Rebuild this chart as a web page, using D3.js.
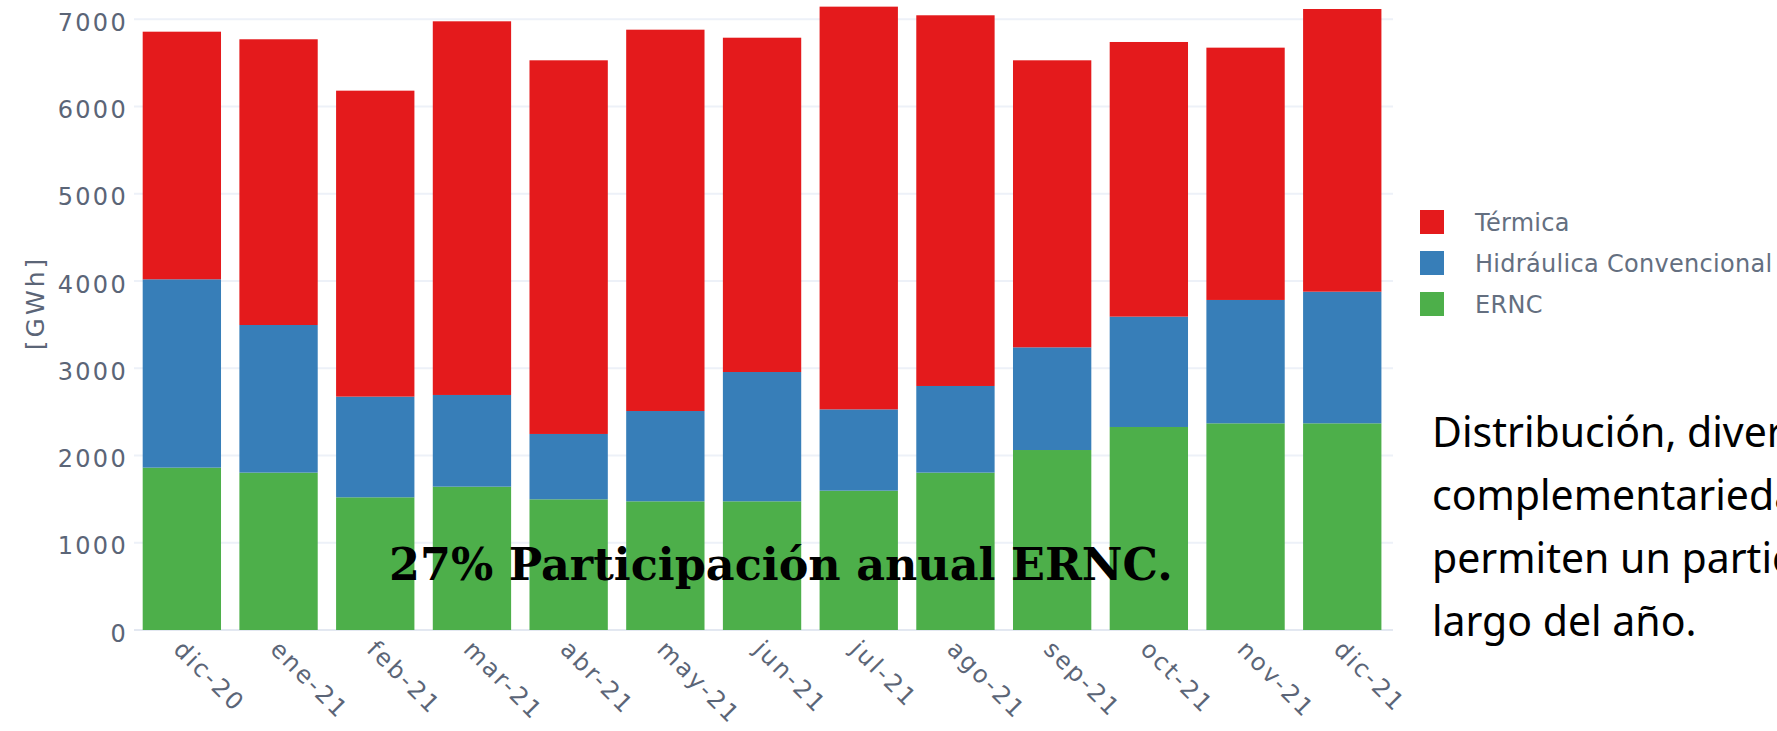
<!DOCTYPE html>
<html>
<head>
<meta charset="utf-8">
<script src="https://cdn.jsdelivr.net/npm/d3@7"></script>
<style>
  html, body { margin: 0; padding: 0; background: #ffffff; overflow: hidden; }
  svg { display: block; }
</style>
</head>
<body>
<svg id="chart" width="1777" height="731"></svg>
<script>
// ---- data ----
const months = ["dic-20","ene-21","feb-21","mar-21","abr-21","may-21","jun-21","jul-21","ago-21","sep-21","oct-21","nov-21","dic-21"];
const ernc    = [1861, 1804, 1521, 1643, 1498, 1475, 1475, 1597, 1804, 2063, 2327, 2369, 2369];
const hidro   = [2159, 1692, 1154, 1051,  749, 1035, 1482,  932,  993, 1177, 1265, 1414, 1509];
const termica = [2838, 3275, 3507, 4283, 4283, 4371, 3832, 4616, 4249, 3290, 3148, 2892, 3240];
const yTicks  = [0, 1000, 2000, 3000, 4000, 5000, 6000, 7000];
const seriesNames = ["ERNC", "Hidráulica Convencional", "Térmica"];
const legendOrder = ["Térmica", "Hidráulica Convencional", "ERNC"];
const yTitle = "[GWh]";
const annotation = "27% Participación anual ERNC.";
const sideText = ["Distribución, diversidad y", "complementariedad de recursos", "permiten un participación a lo", "largo del año."];

// ---- styles ----
const colors = {"Térmica": "#e41a1c", "Hidráulica Convencional": "#377eb8", "ERNC": "#4daf4a"};
const tickColor = "#5b6577";
const font = "'DejaVu Sans', sans-serif";

const svg = d3.select("#chart");
svg.append("rect").attr("width", 1777).attr("height", 731).attr("fill", "#fff");

const rows = months.map((m, i) => ({
  month: m,
  "ERNC": ernc[i],
  "Hidráulica Convencional": hidro[i],
  "Térmica": termica[i]
}));

const x = d3.scaleBand().domain(months).range([133.5, 1390.6]).paddingInner(0.19).paddingOuter(0.095);
const y = d3.scaleLinear().domain([0, 7000]).range([630, 19.3]);

// gridlines
svg.append("g").selectAll("line").data(yTicks).join("line")
  .attr("x1", 134).attr("x2", 1393)
  .attr("y1", d => y(d)).attr("y2", d => y(d))
  .attr("stroke", d => d === 0 ? "#e3e8f1" : "#edf1f8")
  .attr("stroke-width", 2);

// stacked bars
const stack = d3.stack().keys(seriesNames)(rows);
svg.append("g").selectAll("g").data(stack).join("g")
  .attr("fill", d => colors[d.key])
  .selectAll("rect").data(d => d).join("rect")
  .attr("x", d => x(d.data.month))
  .attr("width", x.bandwidth())
  .attr("y", d => y(d[1]))
  .attr("height", d => y(d[0]) - y(d[1]));

// y axis tick labels
const yAxis = d3.axisLeft(y).tickValues(yTicks).tickSize(0).tickPadding(0).tickFormat(d3.format("d"));
const gy = svg.append("g").attr("transform", "translate(128,0)").call(yAxis);
gy.select(".domain").remove();
gy.selectAll("text")
  .attr("x", 0).attr("dy", null).attr("y", 3)
  .attr("dominant-baseline", "central")
  .attr("fill", tickColor)
  .style("font-family", font).style("font-size", "24px").style("letter-spacing", "2.3px");

// x axis tick labels (rotated 45°)
svg.append("g").selectAll("text").data(months).join("text")
  .attr("transform", d => `translate(${x(d) + x.bandwidth() / 2 - 4},645) rotate(45)`)
  .attr("text-anchor", "start")
  .attr("dominant-baseline", "central")
  .attr("fill", tickColor)
  .style("font-family", font).style("font-size", "24px").style("letter-spacing", "2.4px")
  .text(d => d);

// y title
svg.append("text")
  .attr("transform", "translate(35,303) rotate(-90)")
  .attr("text-anchor", "middle").attr("dominant-baseline", "central")
  .attr("fill", tickColor)
  .style("font-family", font).style("font-size", "25px").style("letter-spacing", "3px")
  .text(yTitle);

// legend
const lg = svg.append("g").selectAll("g").data(legendOrder).join("g")
  .attr("transform", (d, i) => `translate(1420,${210 + i * 41})`);
lg.append("rect").attr("width", 24).attr("height", 24).attr("fill", d => colors[d]);
lg.append("text")
  .attr("x", 55).attr("y", 13)
  .attr("dominant-baseline", "central")
  .attr("fill", "#646f80")
  .style("font-family", font).style("font-size", "24px").style("letter-spacing", "0.3px")
  .text(d => d);

// annotation
svg.append("text")
  .attr("x", 389).attr("y", 580)
  .attr("fill", "#000")
  .style("font-family", "'DejaVu Serif', serif").style("font-weight", "bold").style("font-size", "44.5px")
  .text(annotation);

// side text (runs past the right page edge, as in the source slide)
svg.append("g").selectAll("text").data(sideText).join("text")
  .attr("x", 1432).attr("y", (d, i) => 447 + i * 63)
  .attr("fill", "#000")
  .style("font-family", "'Noto Sans', sans-serif").style("font-size", "41px")
  .text(d => d);
</script>
</body>
</html>
